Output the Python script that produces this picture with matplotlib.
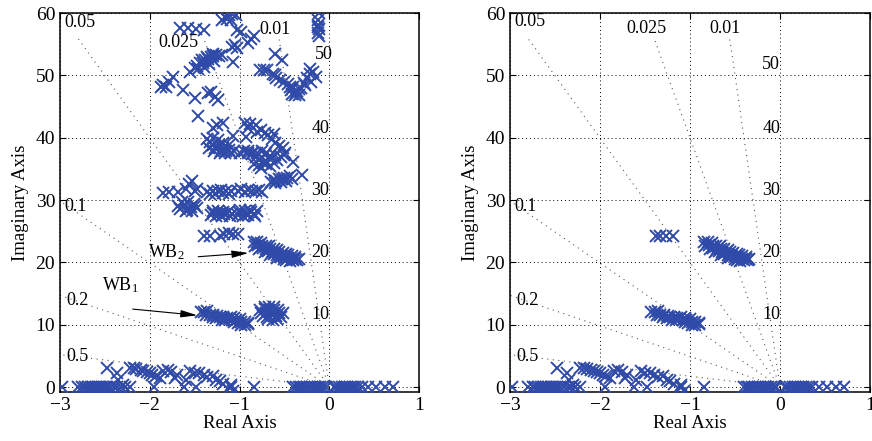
import numpy as np
import matplotlib
matplotlib.use("Agg")
import matplotlib.pyplot as plt

plt.rcParams['font.family'] = ['Liberation Serif', 'DejaVu Serif']
plt.rcParams['mathtext.default'] = 'regular'

# poles on (or near) the real axis, both panels
real_axis_re = [-2.98, -2.8, -2.75, -2.72, -2.69, -2.66, -2.63, -2.6, -2.58, -2.55,
                -2.53, -2.5, -2.48, -2.44, -2.4, -2.36, -2.32, -2.28, -2.22, -1.95,
                -1.62, -1.48, -1.1, -0.84, -0.4, -0.37, -0.34, -0.31, -0.28, -0.25,
                -0.22, -0.19, -0.16, -0.13, -0.1, -0.07, -0.04, 0.05, 0.08, 0.11,
                0.14, 0.17, 0.2, 0.23, 0.26, 0.29, 0.32, 0.36, 0.43, 0.52, 0.62, 0.71]

# low-frequency complex poles, both panels
low_re = [-2.48, -2.37, -2.35, -2.3, -2.22, -2.18, -2.15, -2.1, -2.07, -2.03, -2.0, -1.97,
          -1.93, -1.89, -1.85, -1.8, -1.76, -1.72, -1.7, -1.6, -1.55, -1.5, -1.45, -1.4,
          -1.36, -1.3, -1.26, -1.22, -1.18, -1.1, -1.07]
low_im = [3.0, 2.2, 1.1, 0.4, 3.0, 3.0, 2.9, 2.7, 2.5, 2.4, 2.2, 2.0,
          1.8, 1.5, 2.6, 2.8, 2.4, 1.5, 2.0, 1.2, 2.5, 2.3, 2.2, 2.0,
          1.6, 1.7, 1.2, 0.9, 0.5, 0.3, -0.7]

# WB1 mode
wb1_re = [-1.43, -1.39, -1.36,
          -1.37, -1.33, -1.29, -1.25,
          -1.3, -1.26, -1.22, -1.18, -1.14, -1.1, -1.06,
          -1.2, -1.16, -1.12, -1.08, -1.04, -1.0,
          -1.06, -1.02, -0.98, -0.94, -0.9,
          -0.98, -0.94, -0.9]
wb1_im = [12.1, 12.0, 12.2,
          11.6, 11.5, 11.6, 11.4,
          11.2, 11.1, 11.3, 11.2, 11.1, 11.3, 11.1,
          10.8, 10.7, 10.9, 10.8, 10.7, 10.9,
          10.4, 10.3, 10.5, 10.4, 10.3,
          10.0, 9.9, 10.1]

# WB2 mode
wb2_re = [-0.84, -0.8, -0.76,
          -0.83, -0.79, -0.75, -0.71, -0.67,
          -0.78, -0.74, -0.7, -0.66, -0.62, -0.58,
          -0.72, -0.68, -0.64, -0.6, -0.56, -0.52, -0.48,
          -0.66, -0.62, -0.58, -0.54, -0.5, -0.46, -0.42, -0.38,
          -0.58, -0.54, -0.5, -0.46, -0.42, -0.38, -0.34,
          -0.48, -0.44, -0.4, -0.36]
wb2_im = [23.2, 23.3, 23.1,
          22.7, 22.8, 22.6, 22.7, 22.6,
          22.2, 22.3, 22.1, 22.2, 22.1, 22.0,
          21.7, 21.8, 21.6, 21.7, 21.6, 21.5, 21.4,
          21.2, 21.3, 21.1, 21.2, 21.0, 21.1, 21.0, 20.9,
          20.7, 20.8, 20.6, 20.7, 20.6, 20.5, 20.6,
          20.3, 20.2, 20.3, 20.4]

# row of poles near 24 rad/s
row24_left_re = [-1.4, -1.33, -1.22, -1.17, -1.12, -1.07, -1.02]
row24_left_im = [24.2, 24.2, 24.3, 24.5, 24.7, 24.5, 24.5]
row24_right_re = [-1.38, -1.33, -1.27, -1.19]
row24_right_im = [24.2, 24.2, 24.2, 24.2]

# left panel only: blob near 12 rad/s
blob12_re = [-0.72, -0.67, -0.62,
             -0.77, -0.72, -0.67, -0.62, -0.57,
             -0.76, -0.71, -0.66, -0.61, -0.56, -0.52,
             -0.74, -0.69, -0.64, -0.59, -0.54,
             -0.68, -0.63, -0.58]
blob12_im = [12.9, 12.8, 12.9,
             12.4, 12.5, 12.3, 12.4, 12.3,
             11.9, 11.8, 12.0, 11.9, 11.8, 11.9,
             11.4, 11.3, 11.5, 11.4, 11.3,
             10.9, 10.8, 10.9]

# left panel only: higher modes, cluster by cluster
c27_re = [-1.32, -1.29, -1.26, -1.23, -1.2, -1.17, -1.14, -1.11, -1.08, -1.3, -1.24, -1.18, -1.12,
          -1.02, -0.99, -0.96, -0.93, -0.9, -0.87, -0.84, -0.81, -1.0, -0.94, -0.88, -0.83]
c27_im = [27.6, 27.9, 27.5, 27.8, 27.4, 27.7, 27.9, 27.5, 27.7, 28.3, 28.2, 28.1, 28.2,
          27.6, 27.9, 27.5, 27.8, 27.6, 28.0, 27.7, 28.2, 28.4, 28.3, 28.4, 27.4]
c29_re = [-1.69, -1.66, -1.62, -1.58, -1.54, -1.5, -1.47, -1.64, -1.57, -1.51, -1.6, -1.53]
c29_im = [29.0, 28.6, 29.2, 28.4, 28.8, 29.0, 28.7, 29.7, 29.6, 29.4, 28.2, 28.3]
c31_re = [-1.85, -1.78, -1.69, -1.6, -1.56, -1.53, -1.5, -1.47,
          -1.36, -1.33, -1.3, -1.27, -1.24, -1.21, -1.18, -1.15, -1.12, -1.09,
          -1.02, -0.98, -0.94, -0.9, -0.86, -0.82, -0.78, -0.75]
c31_im = [31.2, 31.3, 31.3, 31.8, 32.6, 33.1, 31.4, 31.8,
          31.3, 30.9, 31.5, 31.0, 31.4, 31.6, 31.2, 31.5, 31.0, 31.4,
          31.4, 31.7, 31.3, 31.6, 31.4, 31.5, 31.6, 31.3]
c33_re = [-0.65, -0.62, -0.59, -0.56, -0.53, -0.5, -0.47, -0.44, -0.42,
          -0.6, -0.54, -0.48, -0.3, -0.4]
c33_im = [32.9, 33.2, 33.1, 33.4, 33.3, 33.5, 33.6, 33.8, 33.4,
          32.7, 32.9, 33.1, 34.0, 36.1]
c36_re = [-0.9, -0.86, -0.82, -0.78, -0.74, -0.7, -0.66, -0.62, -0.58, -0.54, -0.5,
          -0.6, -0.66, -0.72, -0.78, -0.84, -0.76, -0.7, -0.64]
c36_im = [37.8, 37.4, 36.9, 36.4, 36.0, 35.7, 35.5, 35.9, 36.4, 36.9, 37.3,
          37.3, 37.0, 37.2, 35.6, 35.8, 35.2, 36.3, 36.7]
c38_re = [-1.36, -1.33, -1.3, -1.27, -1.24, -1.21, -1.18, -1.15, -1.12, -1.09,
          -1.34, -1.28, -1.22, -1.16, -1.3, -1.24, -1.18, -1.12,
          -1.06, -1.0, -0.95, -0.9, -0.85, -0.8, -0.75, -0.71,
          -1.07, -0.93]
c38_im = [39.8, 39.3, 38.8, 38.3, 38.6, 37.9, 38.3, 37.8, 38.0, 37.6,
          38.3, 37.8, 37.5, 37.6, 39.9, 39.6, 39.2, 38.8,
          37.8, 37.5, 37.8, 37.5, 37.7, 37.5, 37.8, 37.6,
          40.2, 40.1]
c41_re = [-1.3, -1.25, -1.18, -1.46,
          -0.94, -0.88, -0.82, -0.76, -0.9, -0.8, -0.72,
          -0.68, -0.64, -0.6, -0.56, -0.52, -0.49, -0.62]
c41_im = [41.5, 42.0, 42.4, 43.4,
          42.4, 42.2, 42.0, 41.2, 41.6, 40.9, 40.8,
          40.5, 39.8, 39.2, 38.6, 38.3, 37.6, 40.6]
c47_re = [-1.88, -1.85, -1.82, -1.79, -1.74, -1.63, -1.55, -1.5, -1.35, -1.32, -1.27, -1.24]
c47_im = [48.2, 48.5, 48.2, 48.9, 49.8, 47.7, 50.6, 46.4, 47.2, 47.4, 46.6, 46.0]
c52_re = [-1.5, -1.47, -1.44, -1.41, -1.38, -1.35, -1.32, -1.29, -1.26, -1.23, -1.2,
          -1.46, -1.4, -1.34, -1.28, -1.42, -1.36, -1.3,
          -1.07, -1.08, -1.03, -1.05]
c52_im = [51.2, 51.5, 51.9, 52.0, 52.4, 52.6, 52.9, 53.1, 53.3, 53.1, 53.3,
          51.0, 51.4, 51.8, 52.3, 52.5, 52.9, 53.4,
          52.2, 54.5, 54.4, 54.8]
c57_re = [-1.66, -1.57, -1.49, -1.4,
          -1.2, -1.16, -1.12, -1.08, -1.04, -1.14, -1.1,
          -1.03, -0.98, -0.9, -0.87, -0.84]
c57_im = [57.6, 57.6, 57.5, 57.2,
          58.8, 59.3, 59.6, 59.8, 59.7, 59.0, 58.9,
          57.3, 57.0, 55.2, 55.8, 56.3]
c50_re = [-0.77, -0.73, -0.69, -0.6, -0.53, -0.63, -0.59, -0.55, -0.5, -0.6,
          -0.46, -0.43, -0.4, -0.37, -0.34, -0.31, -0.42, -0.38, -0.34, -0.28, -0.44, -0.36,
          -0.22, -0.18, -0.25, -0.2, -0.15, -0.27, -0.22,
          -0.11, -0.12, -0.13, -0.11, -0.12, -0.11, -0.12]
c50_im = [50.8, 50.9, 50.8, 53.5, 52.5, 50.2, 49.6, 49.3, 49.0, 50.0,
          48.6, 47.6, 48.2, 47.2, 47.8, 48.0, 47.0, 46.8, 46.9, 48.8, 48.1, 47.5,
          51.0, 50.5, 49.5, 49.0, 49.8, 48.5, 50.2,
          60.0, 58.8, 58.0, 57.4, 56.8, 56.3, 57.8]

zetas = [0.01, 0.025, 0.05, 0.1, 0.2, 0.5]
wn_labels = ['10', '20', '30', '40', '50']

blue = '#2f4aa8'


def setup(ax, z_label_pos, wn_label_pos):
    # damping ratio lines from origin
    R = 56
    for z in zetas:
        ax.plot([0, -z * R], [0, np.sqrt(1 - z**2) * R], ls=(0, (1, 4)),
                color='0.35', lw=0.8, zorder=1)
    for z, (x, y) in zip(zetas, z_label_pos):
        ax.text(x, y, str(z), fontsize=13, ha='left', va='center', zorder=4)
    for s, (x, y) in zip(wn_labels, wn_label_pos):
        ax.text(x, y, s, fontsize=13, ha='right', va='center', zorder=4)
    ax.set_xlim(-3, 1)
    ax.set_ylim(-0.8, 60)
    ax.set_xticks([-3, -2, -1, 0, 1])
    ax.set_yticks([0, 10, 20, 30, 40, 50, 60])
    ax.grid(True, ls=(0, (1, 3)), color='k', lw=0.7)
    ax.tick_params(direction='in', top=True, right=True, labelsize=14, length=4)
    for sp in ax.spines.values():
        sp.set_linewidth(1.1)
    ax.set_xlabel('Real Axis', fontsize=13.5, labelpad=1)
    ax.set_ylabel('Imaginary Axis', fontsize=13.5, labelpad=5)


def poles(ax, re, im):
    ax.plot(re, im, 'x', color=blue, ms=8, mew=1.4, zorder=3)


fig = plt.figure(figsize=(8.72, 4.41), dpi=100)
ax1 = fig.add_axes([60 / 872, 1 - 392 / 441, 359 / 872, 379 / 441])
ax2 = fig.add_axes([510 / 872, 1 - 392 / 441, 360 / 872, 379 / 441])

setup(ax1,
      [(-0.78, 57.4), (-1.9, 55.2), (-2.95, 58.5), (-2.95, 29.0), (-2.93, 13.9), (-2.93, 4.9)],
      [(-0.0, 11.6), (-0.0, 21.6), (-0.0, 31.6), (-0.0, 41.5), (0.04, 53.3)])
setup(ax2,
      [(-0.78, 57.5), (-1.71, 57.5), (-2.95, 58.7), (-2.95, 29.0), (-2.93, 13.9), (-2.93, 4.9)],
      [(-0.0, 11.6), (-0.0, 21.6), (-0.0, 31.6), (-0.0, 41.5), (-0.0, 51.7)])

zeros = [0] * len(real_axis_re)
for ax in (ax1, ax2):
    poles(ax, real_axis_re, zeros)
    poles(ax, low_re, low_im)
    poles(ax, wb1_re, wb1_im)
    poles(ax, wb2_re, wb2_im)
poles(ax1, row24_left_re, row24_left_im)
poles(ax1, blob12_re, blob12_im)
for re, im in [(c27_re, c27_im), (c29_re, c29_im), (c31_re, c31_im), (c33_re, c33_im),
               (c36_re, c36_im), (c38_re, c38_im), (c41_re, c41_im), (c47_re, c47_im),
               (c52_re, c52_im), (c57_re, c57_im), (c50_re, c50_im)]:
    poles(ax1, re, im)
poles(ax2, row24_right_re, row24_right_im)

arrow = dict(arrowstyle='-|>,head_length=1.0,head_width=0.22', color='k', lw=0.8,
             shrinkA=0, shrinkB=0)
ax1.text(-2.02, 21.6, 'WB$_2$', fontsize=13, ha='left', va='center', zorder=5)
ax1.annotate('', xy=(-0.9, 21.5), xytext=(-1.46, 20.9), arrowprops=arrow, zorder=5)
ax1.text(-2.53, 16.3, 'WB$_1$', fontsize=13, ha='left', va='center', zorder=5)
ax1.annotate('', xy=(-1.47, 11.5), xytext=(-2.19, 12.5), arrowprops=arrow, zorder=5)

fig.savefig('out.png', dpi=100)
